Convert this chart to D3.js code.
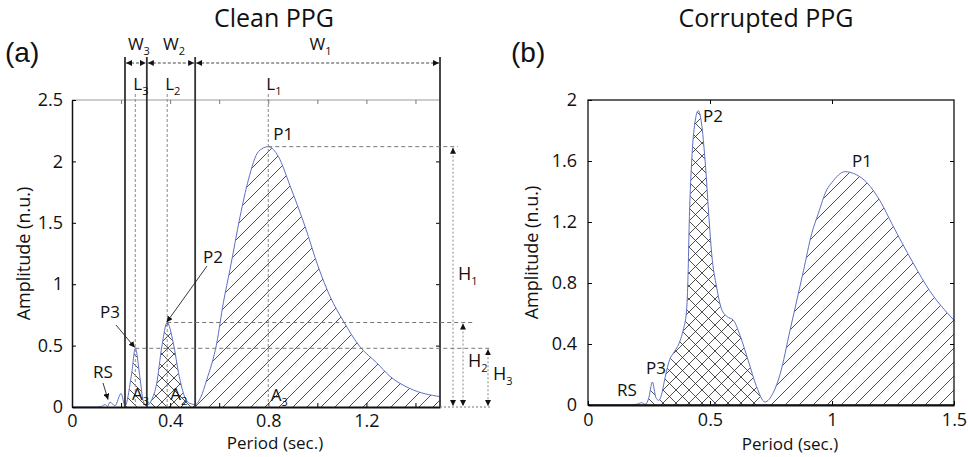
<!DOCTYPE html>
<html>
<head>
<meta charset="utf-8">
<script src="https://cdnjs.cloudflare.com/ajax/libs/d3/7.8.5/d3.min.js"></script>
<style>
body { margin: 0; background: #fff; }
text { font-family: "Open Sans", sans-serif; fill: #111; }
.axis text { font-family: "Open Sans", sans-serif; font-size: 18px; fill: #111; }
</style>
</head>
<body>
<div id="chart"></div>
<script>
// clean PPG: period (sec.) vs amplitude (n.u.)
var cleanPeriod = [0, 0.1, 0.12, 0.135, 0.145, 0.155, 0.175, 0.2, 0.216, 0.243, 0.258, 0.277, 0.29, 0.303,
    0.325, 0.345, 0.366, 0.388, 0.413, 0.437, 0.46, 0.48, 0.502, 0.525, 0.549, 0.59, 0.617, 0.644, 0.685,
    0.719, 0.76, 0.8, 0.841, 0.889, 0.95, 1.004, 1.052, 1.106, 1.174, 1.242, 1.296, 1.378, 1.5];
var cleanAmp = [0, 0, 0.005, 0.02, 0.005, 0.04, 0.01, 0.11, 0.01, 0.27, 0.478, 0.24, 0.05, 0.01,
    0.06, 0.19, 0.49, 0.688, 0.52, 0.25, 0.08, 0.03, 0.02, 0.08, 0.22, 0.52, 0.85, 1.12, 1.55,
    1.85, 2.08, 2.12, 2.04, 1.80, 1.47, 1.14, 0.90, 0.70, 0.49, 0.36, 0.25, 0.15, 0.084];

// corrupted PPG
var corruptPeriod = [0, 0.15, 0.2, 0.22, 0.235, 0.248, 0.264, 0.278, 0.29, 0.3, 0.316, 0.335, 0.35, 0.377,
    0.39, 0.404, 0.41, 0.415, 0.425, 0.438, 0.452, 0.465, 0.48, 0.497, 0.507, 0.527, 0.547, 0.57, 0.596,
    0.623, 0.657, 0.691, 0.725, 0.759, 0.787, 0.828, 0.862, 0.883, 0.917, 0.944, 0.978, 1.0, 1.053, 1.1,
    1.142, 1.2, 1.245, 1.333, 1.4, 1.5];
var corruptAmp = [0, 0, 0.005, 0.015, 0.005, 0.04, 0.15, 0.05, 0.03, 0.06, 0.18, 0.3, 0.34, 0.42,
    0.49, 0.62, 0.85, 1.2, 1.6, 1.85, 1.93, 1.85, 1.6, 1.2, 0.99, 0.775, 0.63, 0.58, 0.556,
    0.457, 0.29, 0.12, 0.02, 0.08, 0.2, 0.49, 0.73, 0.88, 1.125, 1.256, 1.41, 1.46, 1.53, 1.51,
    1.46, 1.33, 1.19, 0.93, 0.75, 0.556];

// windows W3 | W2 | W1 and peaks P1, P2, P3
var cleanBounds = [0.216, 0.305, 0.502, 1.5];
var cleanPeakPeriod = [0.8, 0.388, 0.258];
var cleanPeakAmp = [2.12, 0.688, 0.478];
var corruptBounds = [0.24, 0.295, 0.725, 1.5];

var cleanXTicks = [0, 0.4, 0.8, 1.2];
var cleanYTicks = [0, 0.5, 1, 1.5, 2, 2.5];
var corruptXTicks = [0, 0.5, 1, 1.5];
var corruptYTicks = [0, 0.4, 0.8, 1.2, 1.6, 2];

var lineColor = "#5f70c2";

var svg = d3.select("#chart").append("svg")
    .attr("width", 968)
    .attr("height", 457);
var defs = svg.append("defs");

function hatch(id, s, dirs) {
    var p = defs.append("pattern").attr("id", id)
        .attr("patternUnits", "userSpaceOnUse")
        .attr("width", s).attr("height", s);
    dirs.forEach(function (d) {
        var path = d === "/"
            ? "M-1,1 L1,-1 M0," + s + " L" + s + ",0 M" + (s - 1) + "," + (s + 1) + " L" + (s + 1) + "," + (s - 1)
            : "M-1," + (s - 1) + " L1," + (s + 1) + " M0,0 L" + s + "," + s + " M" + (s - 1) + ",-1 L" + (s + 1) + ",1";
        p.append("path").attr("d", path)
            .attr("stroke", "#222").attr("stroke-width", 0.8).attr("fill", "none");
    });
}
hatch("hUp", 14, ["/"]);
hatch("hDown", 10, ["\\"]);
hatch("hCross", 12, ["/", "\\"]);
hatch("hCross2", 13, ["/", "\\"]);

defs.append("marker").attr("id", "arr")
    .attr("viewBox", "0 0 10 10").attr("refX", 10).attr("refY", 5)
    .attr("markerUnits", "userSpaceOnUse")
    .attr("markerWidth", 6).attr("markerHeight", 6)
    .attr("orient", "auto-start-reverse")
    .append("path").attr("d", "M0,0 L10,5 L0,10 z").attr("fill", "#111");

function toPoints(px, py) {
    return px.map(function (d, i) { return [d, py[i]]; });
}

function drawCurve(g, pts, x, y, regions, name) {
    var area = d3.area()
        .x(function (d) { return x(d[0]); })
        .y0(y(0))
        .y1(function (d) { return y(d[1]); })
        .curve(d3.curveMonotoneX);
    regions.forEach(function (r, i) {
        var cid = name + "clip" + i;
        defs.append("clipPath").attr("id", cid)
            .append("rect")
            .attr("x", x(r[0])).attr("y", 0)
            .attr("width", x(r[1]) - x(r[0])).attr("height", 457);
        g.append("path").datum(pts)
            .attr("d", area)
            .attr("fill", "url(#" + r[2] + ")")
            .attr("clip-path", "url(#" + cid + ")");
    });
    var line = d3.line()
        .x(function (d) { return x(d[0]); })
        .y(function (d) { return y(d[1]); })
        .curve(d3.curveMonotoneX);
    g.append("path").datum(pts)
        .attr("d", line)
        .attr("fill", "none")
        .attr("stroke", lineColor)
        .attr("stroke-width", 1);
}

function subText(g, x, y, main, sub, size) {
    var t = g.append("text").attr("x", x).attr("y", y).style("font-size", size + "px");
    t.append("tspan").text(main);
    t.append("tspan").attr("dy", 5).style("font-size", "11px").text(sub);
    return t;
}

// ---------------- (a) clean PPG ----------------
var xL = d3.scaleLinear().domain([0, 1.5]).range([72, 440]);
var yL = d3.scaleLinear().domain([0, 2.5]).range([407, 100]);
var gL = svg.append("g");

drawCurve(gL, toPoints(cleanPeriod, cleanAmp), xL, yL, [
    [cleanBounds[0], cleanBounds[1], "hDown"],
    [cleanBounds[1], cleanBounds[2], "hCross"],
    [cleanBounds[2], cleanBounds[3], "hUp"]
], "L");

// top gray line
gL.append("line").attr("x1", xL(0)).attr("x2", xL(1.5))
    .attr("y1", yL(2.5)).attr("y2", yL(2.5))
    .attr("stroke", "#999").attr("stroke-width", 1.2);

gL.append("g").attr("class", "axis")
    .attr("transform", "translate(0," + yL(0) + ")")
    .call(d3.axisBottom(xL).tickValues(d3.range(0, 1.5, 0.2)).tickSizeInner(-4).tickSizeOuter(0).tickFormat(""))
    .call(function (a) { a.select(".domain").attr("stroke", "#111").attr("stroke-width", 2); });
gL.append("g").attr("class", "axis")
    .attr("transform", "translate(0," + yL(0) + ")")
    .call(d3.axisBottom(xL).tickValues(cleanXTicks).tickSize(0).tickPadding(7).tickFormat(d3.format("")))
    .call(function (a) { a.select(".domain").remove(); });
gL.append("g").attr("class", "axis")
    .attr("transform", "translate(0," + yL(2.5) + ")")
    .call(d3.axisTop(xL).tickValues(d3.range(0.2, 1.5, 0.2)).tickSizeInner(-4).tickSizeOuter(0).tickFormat(""))
    .call(function (a) { a.select(".domain").remove(); a.selectAll("line").attr("stroke", "#777"); });
gL.append("g").attr("class", "axis")
    .attr("transform", "translate(" + xL(0) + ",0)")
    .call(d3.axisLeft(yL).tickValues(cleanYTicks).tickSizeInner(-4).tickSizeOuter(0).tickPadding(9).tickFormat(d3.format("")))
    .call(function (a) { a.select(".domain").attr("stroke", "#111").attr("stroke-width", 1.5); });
gL.append("g").attr("class", "axis")
    .attr("transform", "translate(" + xL(1.5) + ",0)")
    .call(d3.axisRight(yL).tickValues(cleanYTicks.slice(1, 5)).tickSizeInner(-4).tickSizeOuter(0).tickFormat(""))
    .call(function (a) { a.select(".domain").remove(); });

// window boundaries
var topY = yL(2.5) - 43, arrY = yL(2.5) - 37;
cleanBounds.forEach(function (b) {
    gL.append("line").attr("x1", xL(b)).attr("x2", xL(b))
        .attr("y1", topY).attr("y2", yL(0))
        .attr("stroke", "#333").attr("stroke-width", 1.8);
});
var wNames = ["3", "2", "1"];
for (var i = 0; i < 3; i++) {
    gL.append("line").attr("x1", xL(cleanBounds[i]) + 1).attr("x2", xL(cleanBounds[i + 1]) - 1)
        .attr("y1", arrY).attr("y2", arrY)
        .attr("stroke", "#444").attr("stroke-width", 1).attr("stroke-dasharray", "3,2")
        .attr("marker-start", "url(#arr)").attr("marker-end", "url(#arr)");
    var mid = (xL(cleanBounds[i]) + xL(cleanBounds[i + 1])) / 2;
    subText(gL, mid - 8, yL(2.5) - 50, "W", wNames[i], 17);
}

// peak lines
var peakRight = [458, 473, 490];
var hX = [13, 23, 48];
var hLabelY = [280, 367, 380];
var hLabelX = [18, 28, 53];
for (var k = 0; k < 3; k++) {
    var px = xL(cleanPeakPeriod[k]), py = yL(cleanPeakAmp[k]);
    gL.append("line").attr("x1", px).attr("x2", px)
        .attr("y1", yL(2.5) - 6).attr("y2", yL(0))
        .attr("stroke", "#888").attr("stroke-width", 1).attr("stroke-dasharray", "3,2");
    subText(gL, px - 2, yL(2.5) - 10, "L", String(k + 1), 17);
    gL.append("line").attr("x1", px).attr("x2", peakRight[k])
        .attr("y1", py).attr("y2", py)
        .attr("stroke", "#777").attr("stroke-width", 1).attr("stroke-dasharray", "4,3");
    var hx = xL(1.5) + hX[k];
    gL.append("line").attr("x1", hx).attr("x2", hx)
        .attr("y1", py + 1).attr("y2", yL(0) - 1)
        .attr("stroke", "#888").attr("stroke-width", 1).attr("stroke-dasharray", "2,2")
        .attr("marker-start", "url(#arr)").attr("marker-end", "url(#arr)");
    subText(gL, xL(1.5) + hLabelX[k], hLabelY[k], "H", String(k + 1), 18);
}
gL.append("line").attr("x1", xL(1.5)).attr("x2", 490)
    .attr("y1", yL(0)).attr("y2", yL(0))
    .attr("stroke", "#777").attr("stroke-width", 1).attr("stroke-dasharray", "2,2");

// area labels
subText(gL, xL(0.245), yL(0) - 7, "A", "3", 17);
subText(gL, xL(0.4), yL(0) - 7, "A", "2", 17);
subText(gL, xL(0.81), yL(0) - 6, "A", "3", 17);

// peak labels
gL.append("text").attr("x", xL(0.82)).attr("y", 140).style("font-size", "17px").text("P1");
gL.append("text").attr("x", 203).attr("y", 263).style("font-size", "17px").text("P2");
gL.append("text").attr("x", 100).attr("y", 318).style("font-size", "17px").text("P3");
gL.append("text").attr("x", 93).attr("y", 378).style("font-size", "17px").text("RS");
[[207, 266, xL(0.386), yL(0.69)], [116, 325, xL(0.256), yL(0.485)], [103, 383, xL(0.147), yL(0.06)]]
    .forEach(function (a) {
        gL.append("line").attr("x1", a[0]).attr("y1", a[1]).attr("x2", a[2]).attr("y2", a[3])
            .attr("stroke", "#222").attr("stroke-width", 0.9)
            .attr("marker-end", "url(#arr)");
    });

gL.append("text").attr("x", 274).attr("y", 27).attr("text-anchor", "middle")
    .style("font-size", "25px").text("Clean PPG");
gL.append("text").attr("x", 5).attr("y", 62).style("font-family", "Liberation Sans, Arial, sans-serif")
    .style("font-size", "28px").text("(a)");
gL.append("text").attr("x", 275).attr("y", 449).attr("text-anchor", "middle")
    .style("font-size", "17px").text("Period (sec.)");
gL.append("text").attr("transform", "translate(30," + yL(1.25) + ") rotate(-90)")
    .attr("text-anchor", "middle").style("font-size", "18px").text("Amplitude (n.u.)");

// ---------------- (b) corrupted PPG ----------------
var xR = d3.scaleLinear().domain([0, 1.5]).range([588, 954]);
var yR = d3.scaleLinear().domain([0, 2]).range([405, 100]);
var gR = svg.append("g");

drawCurve(gR, toPoints(corruptPeriod, corruptAmp), xR, yR, [
    [corruptBounds[0], corruptBounds[1], "hDown"],
    [corruptBounds[1], corruptBounds[2], "hCross2"],
    [corruptBounds[2], corruptBounds[3], "hUp"]
], "R");

gR.append("rect").attr("x", xR(0)).attr("y", yR(2))
    .attr("width", xR(1.5) - xR(0)).attr("height", yR(0) - yR(2))
    .attr("fill", "none").attr("stroke", "#111").attr("stroke-width", 1.3);

gR.append("g").attr("class", "axis")
    .attr("transform", "translate(0," + yR(0) + ")")
    .call(d3.axisBottom(xR).tickValues(corruptXTicks).tickSizeInner(-4).tickSizeOuter(0).tickPadding(8).tickFormat(d3.format("")))
    .call(function (a) { a.select(".domain").attr("stroke", "#111").attr("stroke-width", 2); });
gR.append("g").attr("class", "axis")
    .attr("transform", "translate(" + xR(0) + ",0)")
    .call(d3.axisLeft(yR).tickValues(corruptYTicks).tickSizeInner(-4).tickSizeOuter(0).tickPadding(11).tickFormat(d3.format("")))
    .call(function (a) { a.select(".domain").remove(); });
gR.append("g").attr("class", "axis")
    .attr("transform", "translate(0," + yR(2) + ")")
    .call(d3.axisTop(xR).tickValues(corruptXTicks.slice(1, 3)).tickSizeInner(-4).tickSizeOuter(0).tickFormat(""))
    .call(function (a) { a.select(".domain").remove(); });
gR.append("g").attr("class", "axis")
    .attr("transform", "translate(" + xR(1.5) + ",0)")
    .call(d3.axisRight(yR).tickValues(corruptYTicks.slice(1, 5)).tickSizeInner(-4).tickSizeOuter(0).tickFormat(""))
    .call(function (a) { a.select(".domain").remove(); });

gR.append("text").attr("x", 703).attr("y", 122).style("font-size", "17px").text("P2");
gR.append("text").attr("x", 852).attr("y", 167).style("font-size", "17px").text("P1");
gR.append("text").attr("x", 646).attr("y", 374).style("font-size", "17px").text("P3");
gR.append("text").attr("x", 617).attr("y", 396).style("font-size", "17px").text("RS");

gR.append("text").attr("x", 766).attr("y", 27).attr("text-anchor", "middle")
    .style("font-size", "25px").text("Corrupted PPG");
gR.append("text").attr("x", 511).attr("y", 62).style("font-family", "Liberation Sans, Arial, sans-serif")
    .style("font-size", "28px").text("(b)");
gR.append("text").attr("x", 790).attr("y", 450).attr("text-anchor", "middle")
    .style("font-size", "17px").text("Period (sec.)");
gR.append("text").attr("transform", "translate(538," + yR(1) + ") rotate(-90)")
    .attr("text-anchor", "middle").style("font-size", "18px").text("Amplitude (n.u.)");
</script>
</body>
</html>
